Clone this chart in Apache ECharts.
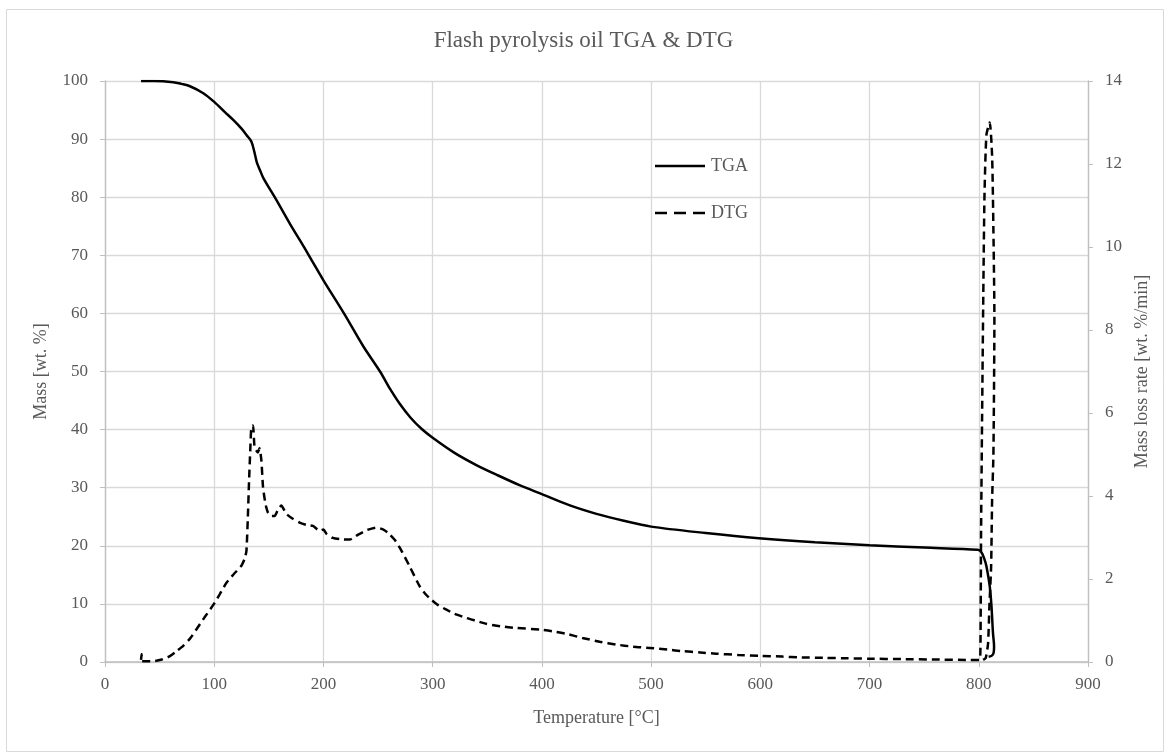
<!DOCTYPE html>
<html>
<head>
<meta charset="utf-8">
<script src="https://cdn.jsdelivr.net/npm/echarts@6/dist/echarts.min.js"></script>
<style>
html,body{margin:0;padding:0;background:#fff;}
#c{width:1167px;height:755px;}
</style>
</head>
<body>
<div id="c"></div>
<script>
const chartTitle = 'Flash pyrolysis oil TGA & DTG';
const seriesNames = ['TGA', 'DTG'];
const xTicks = [0, 900, 100];
const massTicks = [0, 100, 10];
const rateTicks = [0, 14, 2];

const tgaTemp = [33,45,62.5,70,77.8,90,100,110,117.4,125,130,134,136.5,139,142,145,157,170,178.4,188.5,200,218.8,236.6,251.8,261,270,280,290,300,320,340,360,380,400,425,450,475,500,550,598.6,650,700,750,799,802.4,805,807,810,811.6,813,814,813.6,812,809];
const tgaMass = [100,100,99.8,99.5,99.1,97.9,96.4,94.6,93.3,91.8,90.6,89.6,88,86,84.6,83.3,79.5,75.2,72.6,69.4,65.7,60,54.3,50,47,44.4,42,40.1,38.6,36.0,33.9,32.1,30.4,28.9,27.0,25.5,24.3,23.3,22.2,21.3,20.6,20.1,19.7,19.3,18.9,17.8,16.5,13.1,9.7,5.0,2.7,1.6,1.1,0.9];

const dtgTemp = [33,33.5,34,44,52,59.4,65,71.6,78,83.8,91,99,105,111.2,118,124.9,128,129.5,130.8,131.9,133,134,135.5,137,140,141.5,143.2,144.7,147,149.2,152,155.3,158,161.4,166,172,178.2,185,190.4,196.5,200,203,208.6,215,224,231.8,240,248.6,254,259.2,265,270,279,288.2,294,298.9,305,312.6,320,330.9,340,349.2,362,376.7,398.6,410,422.4,437,452.9,468,483.4,498.6,515,529,545,559.6,580,598.6,620,635.9,660,680,700,730,760,790,800.5,801.5,802.1,803,804,805.2,807,810,812.2,813.4,814.3,813.4,812.2,811.3,809.8,808.5,806.4,804];
const dtgRate = [0.05,0.19,0.02,0.02,0.06,0.14,0.25,0.39,0.57,0.79,1.07,1.37,1.63,1.91,2.12,2.32,2.5,2.68,3.5,4.37,5.1,5.66,5.7,5.17,5.05,5.15,4.85,4.21,3.8,3.6,3.52,3.52,3.65,3.77,3.57,3.45,3.36,3.3,3.28,3.16,3.19,3.08,2.99,2.96,2.95,3.07,3.18,3.24,3.2,3.11,2.95,2.75,2.3,1.82,1.62,1.5,1.37,1.26,1.16,1.06,0.99,0.92,0.86,0.82,0.78,0.74,0.68,0.58,0.49,0.42,0.37,0.34,0.3,0.26,0.23,0.2,0.17,0.15,0.13,0.11,0.1,0.09,0.08,0.07,0.06,0.05,0.05,0.3,3.1,5.8,8.5,11.2,12.7,13.0,12.2,10.4,8.3,5.0,3.9,2.3,1.4,0.45,0.1,0.05];

const tgaData = tgaTemp.map((t, i) => [t, tgaMass[i]]);
const dtgData = dtgTemp.map((t, i) => [t, dtgRate[i]]);

const txt = '#595959';
const font = 'Liberation Serif';
const gridCol = '#d9d9d9';
const axisCol = '#bfbfbf';

function legendItem(y, name, dash) {
  return [{
    type: 'line', silent: true, z: 100,
    shape: {x1: 655, y1: y, x2: 705, y2: y},
    style: {stroke: '#000', lineWidth: 2.5, lineDash: dash}
  }, {
    type: 'text', silent: true, z: 100, x: 711, y: y,
    style: {text: name, fill: txt, font: '18px "Liberation Serif"', verticalAlign: 'middle', align: 'left'}
  }];
}

const chart = echarts.init(document.getElementById('c'), null, {renderer: 'canvas'});
chart.setOption({
  backgroundColor: '#fff',
  animation: false,
  title: {
    text: chartTitle, left: 'center', top: 24,
    textStyle: {color: txt, fontFamily: font, fontSize: 23, fontWeight: 'normal'}
  },
  graphic: [{
    type: 'rect', left: 4, top: 7, silent: true,
    shape: {width: 1157, height: 742},
    style: {fill: 'none', stroke: gridCol, lineWidth: 1}
  }].concat(legendItem(166, seriesNames[0], null), legendItem(213, seriesNames[1], [12, 7])),
  grid: {left: 105, right: 79, top: 81, bottom: 93, containLabel: false},
  xAxis: {
    type: 'value', min: xTicks[0], max: xTicks[1], interval: xTicks[2],
    name: 'Temperature [°C]', nameLocation: 'middle', nameGap: 47,
    nameTextStyle: {color: txt, fontFamily: font, fontSize: 18},
    axisLine: {show: true, lineStyle: {color: axisCol, width: 1.5}},
    axisTick: {show: true, length: 5, lineStyle: {color: axisCol}},
    axisLabel: {color: txt, fontFamily: font, fontSize: 17, margin: 14},
    splitLine: {show: true, lineStyle: {color: gridCol, width: 1.3}}
  },
  yAxis: [{
    type: 'value', min: massTicks[0], max: massTicks[1], interval: massTicks[2],
    name: 'Mass [wt. %]', nameLocation: 'middle', nameGap: 55, nameRotate: 90,
    nameTextStyle: {color: txt, fontFamily: font, fontSize: 18},
    axisLine: {show: true, lineStyle: {color: axisCol, width: 1.3}},
    axisTick: {show: true, length: 5, lineStyle: {color: axisCol}},
    axisLabel: {color: txt, fontFamily: font, fontSize: 17, margin: 17},
    splitLine: {show: true, lineStyle: {color: gridCol, width: 1.3}}
  }, {
    type: 'value', min: rateTicks[0], max: rateTicks[1], interval: rateTicks[2],
    position: 'right',
    name: 'Mass loss rate [wt. %/min]', nameLocation: 'middle', nameGap: 42, nameRotate: 90,
    nameTextStyle: {color: txt, fontFamily: font, fontSize: 18},
    axisLine: {show: true, lineStyle: {color: axisCol, width: 1.3}},
    axisTick: {show: true, length: 5, lineStyle: {color: axisCol}},
    axisLabel: {color: txt, fontFamily: font, fontSize: 17, margin: 17},
    splitLine: {show: false}
  }],
  series: [{
    name: seriesNames[0], type: 'line', yAxisIndex: 0, data: tgaData,
    showSymbol: false, symbol: 'none', smooth: 0.3,
    lineStyle: {color: '#000', width: 2.5},
    itemStyle: {color: '#000'}
  }, {
    name: seriesNames[1], type: 'line', yAxisIndex: 1, data: dtgData,
    showSymbol: false, symbol: 'none', smooth: 0.2,
    lineStyle: {color: '#000', width: 2.5, type: [8, 5]},
    itemStyle: {color: '#000'}
  }]
});
</script>
</body>
</html>
